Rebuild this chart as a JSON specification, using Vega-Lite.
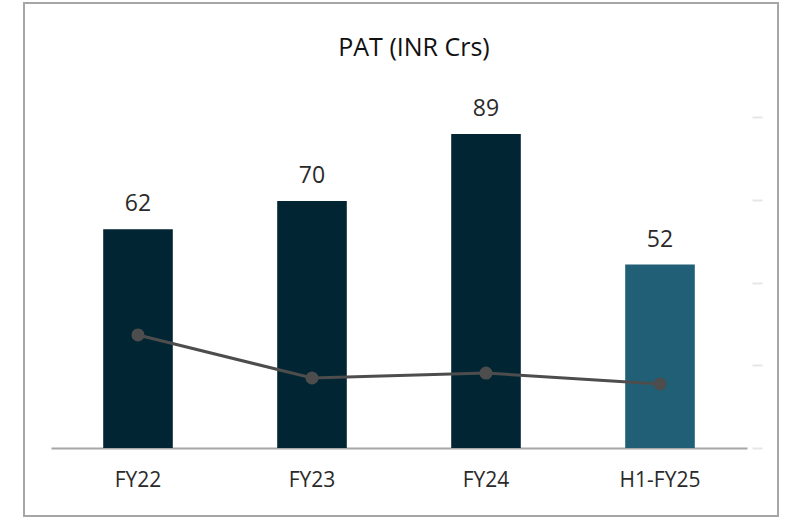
{
  "$schema": "https://vega.github.io/schema/vega-lite/v6.json",
  "width": 754,
  "height": 513,
  "autosize": "none",
  "padding": {"left": 24, "top": 3, "right": 11, "bottom": 1},
  "background": "white",
  "config": {"view": {"stroke": "#a6a6a6", "strokeWidth": 2}, "font": "Open Sans"},
  "title": {"text": "PAT (INR Crs)", "font": "Open Sans", "fontSize": 25, "fontWeight": "normal", "color": "#111111", "anchor": "middle", "frame": "group", "dx": 13, "offset": -83, "baseline": "bottom"},
  "data": {"values": [
    {"period": "FY22", "pat": 62, "margin": 6.83, "kind": "FY"},
    {"period": "FY23", "pat": 70, "margin": 4.23, "kind": "FY"},
    {"period": "FY24", "pat": 89, "margin": 4.53, "kind": "FY"},
    {"period": "H1-FY25", "pat": 52, "margin": 3.87, "kind": "H1"}
  ]},
  "encoding": {
    "x": {"field": "period", "type": "nominal", "sort": null,
      "scale": {"range": [27, 723], "paddingInner": 0.6, "paddingOuter": 0.3},
      "axis": {"orient": "bottom", "offset": -68, "title": null, "ticks": false, "domainColor": "#a6a6a6", "domainWidth": 2, "labelFontSize": 21, "labelColor": "#2a2a2a", "labelPadding": 21, "labelAngle": 0, "labelFont": "Open Sans"}}
  },
  "layer": [
    {
      "mark": {"type": "bar"},
      "encoding": {
        "y": {"field": "pat", "type": "quantitative", "scale": {"domain": [0, 93.8], "range": [445, 114], "nice": false}, "axis": null},
        "color": {"field": "kind", "type": "nominal", "scale": {"domain": ["FY", "H1"], "range": ["#022533", "#215f77"]}, "legend": null}
      }
    },
    {
      "mark": {"type": "text", "dy": -18, "baseline": "alphabetic", "fontSize": 23, "color": "#2a2a2a", "font": "Open Sans"},
      "encoding": {
        "y": {"field": "pat", "type": "quantitative", "scale": {"domain": [0, 93.8], "range": [445, 114], "nice": false}, "axis": null},
        "text": {"field": "pat", "type": "quantitative"}
      }
    },
    {
      "mark": {"type": "line", "color": "#4d4d4d", "strokeWidth": 3, "point": {"filled": true, "size": 170, "color": "#4d4d4d"}},
      "encoding": {
        "y": {"field": "margin", "type": "quantitative", "scale": {"domain": [0, 20], "range": [445, 114], "nice": false},
          "axis": {"orient": "right", "offset": -26, "values": [0, 5, 10, 15, 20], "labels": false, "domain": false, "grid": false, "tickSize": 10, "tickColor": "#e6e6e6", "tickWidth": 2, "title": null}}
      }
    }
  ],
  "resolve": {"scale": {"y": "independent"}}
}
